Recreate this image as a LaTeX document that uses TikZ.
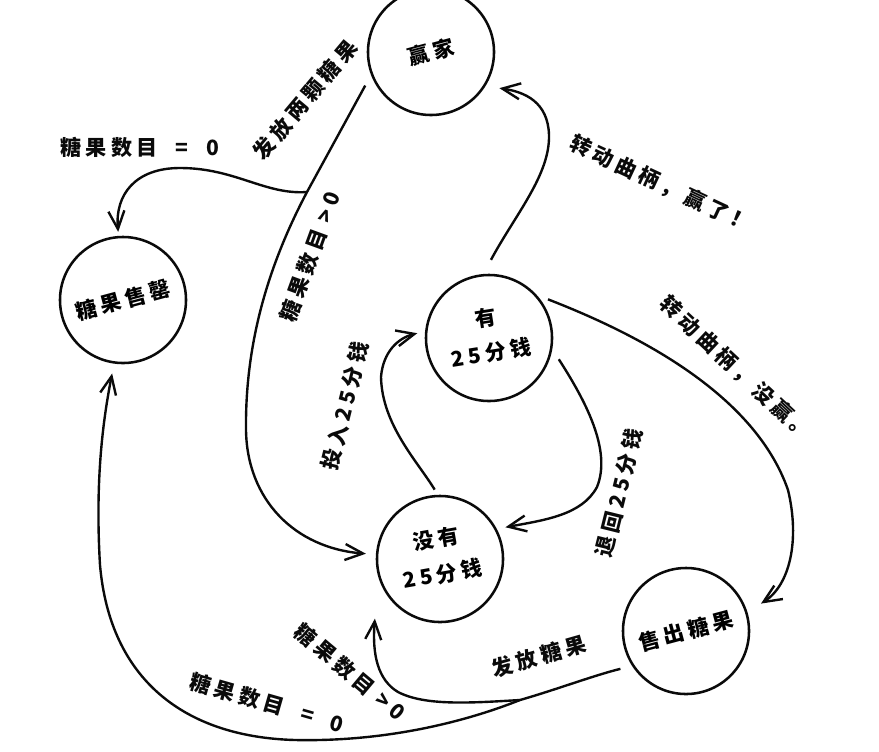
\documentclass[tikz,border=0pt]{standalone}
\usepackage{graphicx}
\usepackage{fontspec}
\newfontfamily\cjk[LetterSpace=20]{Noto Sans CJK SC}
\usetikzlibrary{arrows.meta}
\definecolor{ink}{RGB}{10,10,10}

\tikzset{
  state/.style={draw=ink, circle, line width=1.8pt, minimum size=3.15cm,
    inner sep=0pt, font=\cjk\bfseries\fontsize{15}{19}\selectfont},
  lbl/.style={ink, inner sep=0pt, font=\cjk\bfseries\fontsize{15}{19}\selectfont},
  wire/.style={draw=ink, line width=1.7pt},
  arr/.style={wire, -{Straight Barb[length=4.5mm, width=4mm]}}
}

\begin{document}
\begin{tikzpicture}[x=0.025cm, y=-0.025cm]
  \useasboundingbox (0,0) rectangle (879,751);

  % States
  \node[state] (win) at (431,52) {\rotatebox{15}{赢家}};
  \node[state] (soldout) at (123,300) {\rotatebox{15}{糖果售罄}};
  \node[state] (hasq) at (489,338)
    {\rotatebox{9}{\begin{tabular}{@{}c@{}}有\\[6.5pt]25分钱\end{tabular}}};
  \node[state] (noq) at (440,559)
    {\rotatebox{10}{\begin{tabular}{@{}c@{}}没有\\[6.5pt]25分钱\end{tabular}}};
  \node[state] (sold) at (686,631) {\rotatebox{15}{售出糖果}};

  % Branch points
  \coordinate (b1) at (307,192);
  \coordinate (b2) at (520,700);

  % Winner: two gumballs, then back to no quarter
  \draw[arr, shorten <=3mm, shorten >=2.5mm] (win.201) -- (b1)
    .. controls (270,262) and (245,340) .. (246,430)
    .. controls (247,500) and (295,548) .. (noq.176);
  \draw[arr, shorten >=1mm] (b1) .. controls (265,195) and (235,168) .. (180,168)
    .. controls (135,168) and (115,195) .. (soldout.94);
  \node[lbl, rotate=50] (lGiveTwo) at (305,100) {发放两颗糖果};
  \node[lbl] (lZeroTop) at (140,147) {糖果数目\ \ =\ \ 0};
  \node[lbl, rotate=70] (lMoreTop) at (310,257) {糖果数目 >0};

  % Turn crank
  \draw[arr, shorten <=4mm, shorten >=3.5mm] (hasq.95)
    .. controls (515,215) and (550,175) .. (549,135)
    .. controls (548,102) and (525,92) .. (win.-32);
  \node[lbl, rotate=-25] (lTurnWin) at (661,184) {转动曲柄，赢了！};
  \draw[arr, shorten <=3mm, shorten >=4mm] (hasq.42)
    .. controls (640,335) and (755,395) .. (788,490)
    .. controls (800,540) and (790,585) .. (sold.17);
  \node[lbl, rotate=-43] (lTurnLose) at (736,368) {转动曲柄，没赢。};

  % Insert / eject quarter
  \draw[arr, shorten <=1.5mm, shorten >=2mm] (noq.92)
    .. controls (418,462) and (382,425) .. (381,377)
    .. controls (383,352) and (398,338) .. (hasq.174);
  \node[lbl, rotate=76] (lInsert) at (345,406) {投入25分钱};
  \draw[arr, shorten <=3mm, shorten >=2.2mm] (hasq.-10)
    .. controls (585,400) and (612,450) .. (597,487)
    .. controls (582,515) and (545,520) .. (noq.28);
  \node[lbl, rotate=76] (lEject) at (619,493) {退回25分钱};

  % Dispense gumball
  \draw[wire, shorten <=3mm] (sold.213) .. controls (595,675) and (555,690) .. (b2);
  \draw[arr, shorten >=10.5mm] (b2) .. controls (470,703) and (425,706) .. (398,692)
    .. controls (378,680) and (372,655) .. (noq.196);
  \draw[arr, shorten >=2.5mm] (b2) .. controls (470,720) and (390,742) .. (295,740)
    .. controls (185,737) and (110,680) .. (100,565)
    .. controls (95,480) and (103,420) .. (soldout.262);
  \node[lbl, rotate=16] (lGive) at (539,656) {发放糖果};
  \node[lbl, rotate=-40] (lMoreBot) at (350,672) {糖果数目 >0};
  \node[lbl, rotate=-16] (lZeroBot) at (267,703) {糖果数目\ \ =\ \ 0};
\end{tikzpicture}
\end{document}
